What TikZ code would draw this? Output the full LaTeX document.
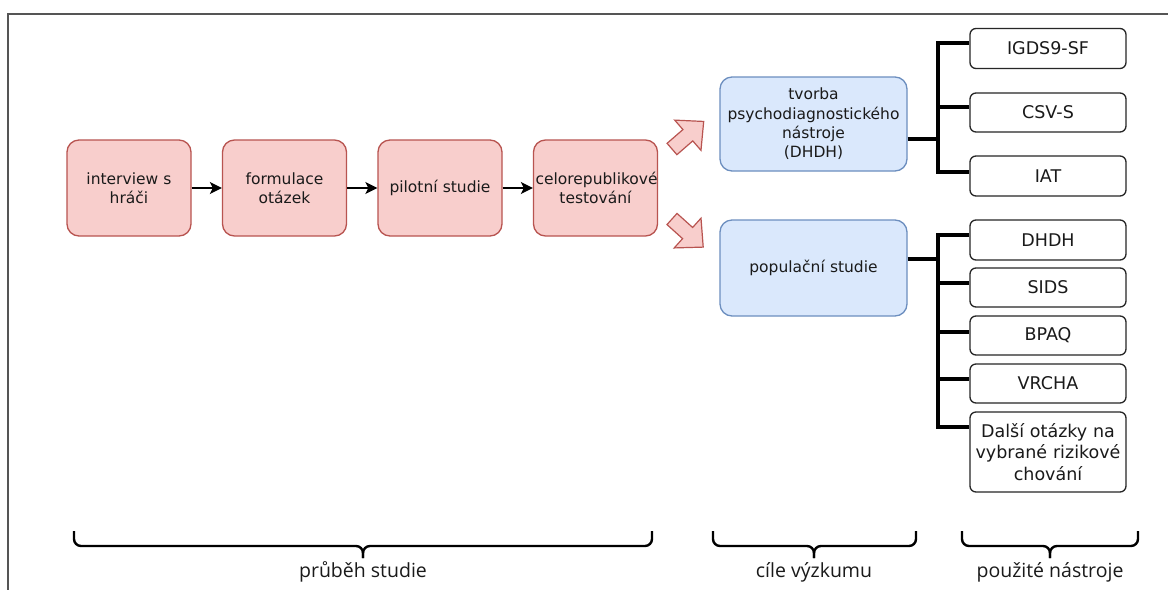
\documentclass[tikz,border=0pt]{standalone}
\usepackage{fontspec}
\setmainfont{DejaVu Sans}
\newfontfamily\labfont{Open Sans}
\usetikzlibrary{arrows.meta}
\definecolor{redfill}{HTML}{F8CECC}
\definecolor{redline}{HTML}{B85450}
\definecolor{bluefill}{HTML}{DAE8FC}
\definecolor{blueline}{HTML}{6C8EBF}
\definecolor{framegray}{HTML}{555555}
\definecolor{txt}{HTML}{1A1A1A}
\tikzset{
  redbox/.style={draw=redline, fill=redfill, line width=1.3pt, rounded corners=12pt,
    minimum width=124pt, minimum height=96pt, text width=120pt, align=center,
    inner sep=0pt, font=\fontsize{15.5}{19}\selectfont, text=txt},
  bluebox/.style={draw=blueline, fill=bluefill, line width=1.3pt, rounded corners=12pt,
    minimum width=187pt, minimum height=95pt, text width=183pt, align=center,
    inner sep=0pt, font=\fontsize{15.5}{19.3}\selectfont, text=txt},
  toolbox/.style={draw=black!85, fill=white, line width=1.3pt, rounded corners=6pt,
    minimum width=156pt, minimum height=39pt, text width=152pt, align=center,
    inner sep=0pt, font=\fontsize{17.5}{21.5}\selectfont, text=txt},
  flow/.style={line width=1.4pt, -{Stealth[length=12pt,width=12pt,inset=3pt]}},
  tree/.style={line width=3.3pt, black},
  blockarrow/.style={draw=redline, fill=redfill, line width=1.2pt, line join=miter},
  bracestyle/.style={line width=2.4pt, black, rounded corners=7pt},
  lab/.style={font=\labfont\fontsize{19.5}{22}\selectfont, text=txt, inner sep=0pt},
}
\begin{document}
\begin{tikzpicture}[x=1pt,y=-1pt]
\useasboundingbox[fill=white] (0,0) rectangle (1168,590);
% frame
\draw[framegray, line width=1.4pt] (1168,14) -- (8,14) -- (8,590);

% red process boxes
\node[redbox] (r1) at (129,188) {interview s\\hráči};
\node[redbox] (r2) at (284.5,188) {formulace\\otázek};
\node[redbox] (r3) at (440,188) {pilotní studie};
\node[redbox] (r4) at (595.5,188) {celorepublikové\\testování};
\draw[flow] (r1) -- (r2);
\draw[flow] (r2) -- (r3);
\draw[flow] (r3) -- (r4);

% block arrows
\begin{scope}[shift={(672,149)}, rotate=41]
\draw[blockarrow] (0,-7.5) -- (21,-7.5) -- (21,-20) -- (42,0) -- (21,20) -- (21,7.5) -- (0,7.5) -- cycle;
\end{scope}
\begin{scope}[shift={(672,219)}, rotate=-42]
\draw[blockarrow] (0,-7.5) -- (21,-7.5) -- (21,-20) -- (42,0) -- (21,20) -- (21,7.5) -- (0,7.5) -- cycle;
\end{scope}

% blue goal boxes
\node[bluebox, minimum height=94pt] (b1) at (813.5,124) {tvorba\\psychodiagnostického\\nástroje\\(DHDH)};
\node[bluebox, minimum height=96pt] (b2) at (813.5,268) {populační studie};

% tool boxes
\node[toolbox, minimum height=40pt] (t1) at (1048,48.5) {IGDS9-SF};
\node[toolbox] (t2) at (1048,112.5) {CSV-S};
\node[toolbox, minimum height=40pt] (t3) at (1048,176) {IAT};
\node[toolbox, minimum height=40pt] (t4) at (1048,240) {DHDH};
\node[toolbox] (t5) at (1048,287.5) {SIDS};
\node[toolbox] (t6) at (1048,335.5) {BPAQ};
\node[toolbox] (t7) at (1048,383.5) {VRCHA};
\node[toolbox, minimum height=80pt] (t8) at (1048,452) {Další otázky na\\vybrané rizikové\\chování};

% trees
\coordinate (j1) at (938,139);
\coordinate (j2) at (938,259);
\draw[tree] (b1.east |- j1) -- (j1);
\draw[tree] (j1) |- ([yshift=5.5pt]t1.west);
\draw[tree] (j1) |- ([yshift=5.5pt]t2.west);
\draw[tree] (j1) |- ([yshift=4pt]t3.west);
\draw[tree] (b2.east |- j2) -- (j2);
\draw[tree] (j2) |- ([yshift=5pt]t4.west);
\draw[tree] (j2) |- ([yshift=4.5pt]t5.west);
\draw[tree] (j2) |- ([yshift=3.5pt]t6.west);
\draw[tree] (j2) |- ([yshift=4.5pt]t7.west);
\draw[tree] (j2) |- ([yshift=25pt]t8.west);

% braces
\draw[bracestyle] (74,531) -- (74,546) -- (363,546) -- (363,558);
\draw[bracestyle] (652,531) -- (652,546) -- (363,546) -- (363,558);
\draw[bracestyle] (713,531) -- (713,546) -- (814,546) -- (814,558);
\draw[bracestyle] (916,531) -- (916,546) -- (814,546) -- (814,558);
\draw[bracestyle] (962,531) -- (962,546) -- (1050,546) -- (1050,558);
\draw[bracestyle] (1138,531) -- (1138,546) -- (1050,546) -- (1050,558);

\node[lab] (l1) at (363,572) {průběh studie};
\node[lab] (l2) at (814,572) {cíle výzkumu};
\node[lab] (l3) at (1050,572) {použité nástroje};
\end{tikzpicture}
\end{document}
